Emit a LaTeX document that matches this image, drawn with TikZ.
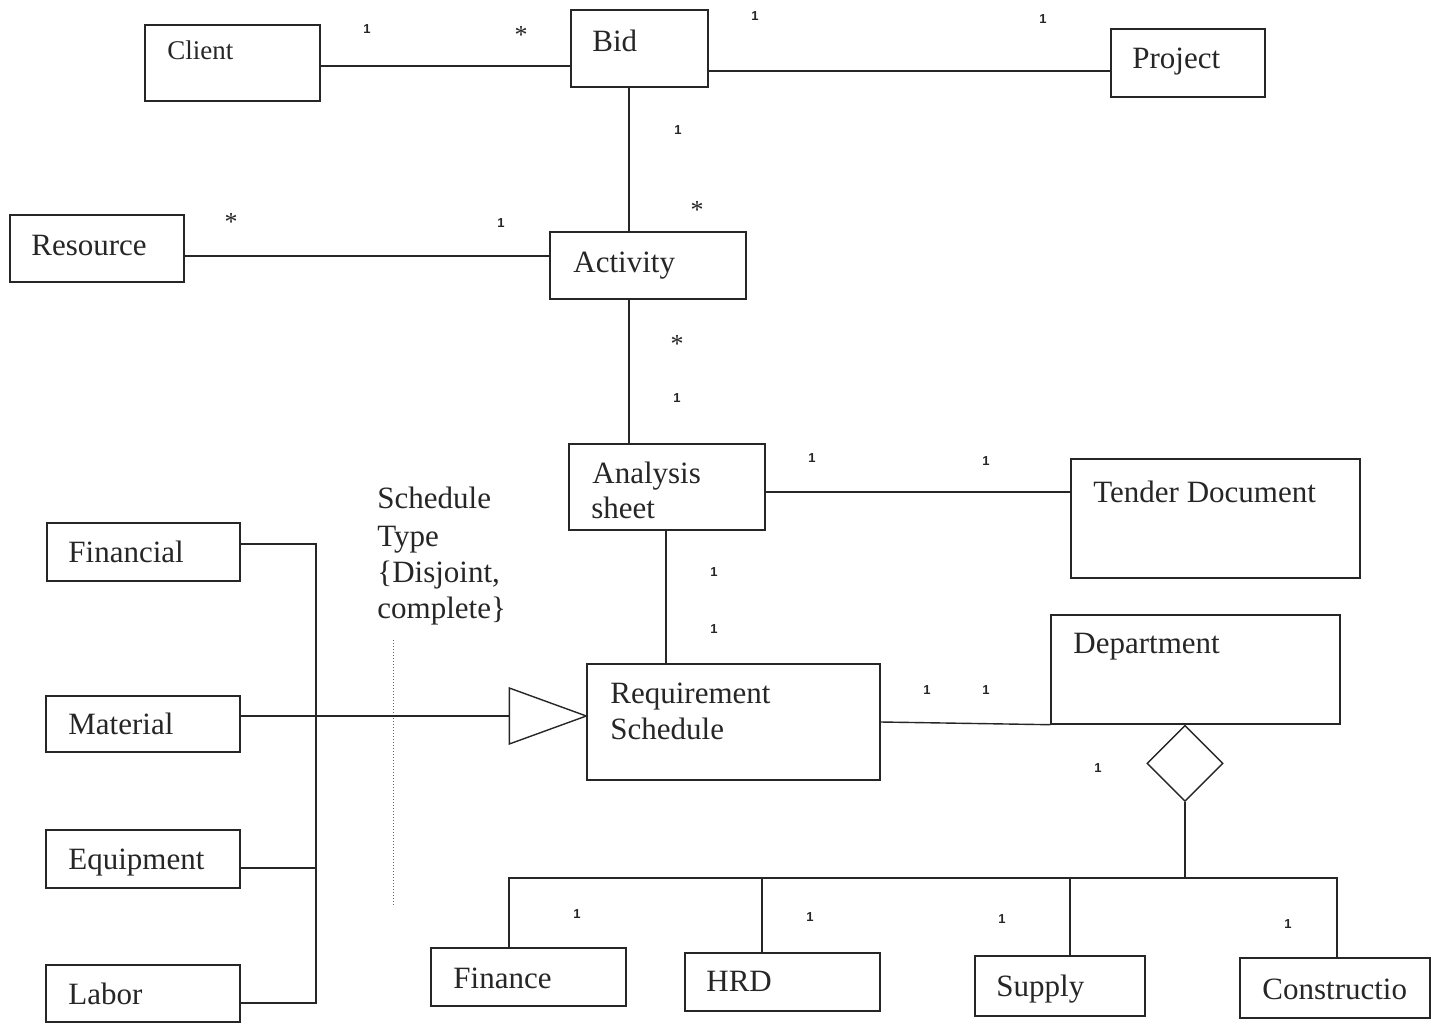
\documentclass[tikz,border=0pt]{standalone}
\usepackage{fontspec}
\setmainfont{Liberation Serif}
\newfontfamily\multfont{Liberation Sans}
\usetikzlibrary{fit,shapes.geometric}

\begin{document}
\begin{tikzpicture}[x=0.5pt,y=-0.5pt,
  cls/.style={draw=black!85, line width=0.7pt, inner sep=0pt},
  lbl/.style={font=\fontsize{15.5}{18}\selectfont, inner sep=0pt, anchor=base west, text=black!85},
  smalllbl/.style={lbl, font=\fontsize{13.5}{16}\selectfont},
  mult/.style={font=\multfont\bfseries\fontsize{6.5}{8}\selectfont, inner sep=0pt, text=black!85},
  star/.style={font=\fontsize{13}{14}\selectfont, inner sep=0pt, text=black!85},
  wire/.style={draw=black!85, line width=0.7pt}]
\useasboundingbox (0,0) rectangle (1437,1023);
\fill[white] (0,0) rectangle (1437,1023);

% ---- classes ----
\node[cls, fit={(145,25) (320,101)}] (client) {};
\node[cls, fit={(571,10) (708,87)}] (bid) {};
\node[cls, fit={(1111,29) (1265,97)}] (project) {};
\node[cls, fit={(10,215) (184,282)}] (resource) {};
\node[cls, fit={(550,232) (746,299)}] (activity) {};
\node[cls, fit={(569,444) (765,530)}] (analysis) {};
\node[cls, fit={(1071,459) (1360,578)}] (tender) {};
\node[cls, fit={(47,523) (240,581)}] (financial) {};
\node[cls, fit={(46,696) (240,752)}] (material) {};
\node[cls, fit={(46,830) (240,888)}] (equipment) {};
\node[cls, fit={(46,965) (240,1022)}] (labor) {};
\node[cls, fit={(587,664) (880,780)}] (req) {};
\node[cls, fit={(1051,615) (1340,724)}] (dept) {};
\node[cls, fit={(431,948) (626,1006)}] (finance) {};
\node[cls, fit={(685,953) (880,1011)}] (hrd) {};
\node[cls, fit={(975,956) (1145,1016)}] (supply) {};
\node[cls, fit={(1240,958) (1430,1018)}] (construction) {};

% ---- class names ----
\node[smalllbl] (t-client) at (167,59) {Client};
\node[lbl] (t-bid) at (592,51) {Bid};
\node[lbl] (t-project) at (1132,68) {Project};
\node[lbl] (t-resource) at (31,255) {Resource};
\node[lbl] (t-activity) at (573,272) {Activity};
\node[lbl] (t-analysis1) at (592,483) {Analysis};
\node[lbl] (t-analysis2) at (591,518) {sheet};
\node[lbl] (t-tender) at (1093,502) {Tender Document};
\node[lbl] (t-financial) at (68,562) {Financial};
\node[lbl] (t-material) at (68,734) {Material};
\node[lbl] (t-equipment) at (68,869) {Equipment};
\node[lbl] (t-labor) at (68,1004) {Labor};
\node[lbl] (t-req1) at (610,703) {Requirement};
\node[lbl] (t-req2) at (610,739) {Schedule};
\node[lbl] (t-dept) at (1073,653) {Department};
\node[lbl] (t-finance) at (453,988) {Finance};
\node[lbl] (t-hrd) at (706,991) {HRD};
\node[lbl] (t-supply) at (996,996) {Supply};
\node[lbl] (t-construction) at (1262,999) {Constructio};

% ---- generalization note ----
\node[lbl] (n1) at (377,508) {Schedule};
\node[lbl] (n2) at (377,546) {Type};
\node[lbl] (n3) at (377,582) {\{Disjoint,};
\node[lbl] (n4) at (377,618) {complete\}};
\draw[black!60, line width=0.5pt, densely dotted] (393,640) coordinate (dotA) -- (393,906) coordinate (dotB);

% ---- associations ----
\draw[wire] (client.east |- 0,66) -- (bid.west |- 0,66);
\draw[wire] (bid.east |- 0,71) -- (project.west |- 0,71);
\draw[wire] (629,0 |- bid.south) -- (629,0 |- activity.north);
\draw[wire] (resource.east |- 0,256) -- (activity.west |- 0,256);
\draw[wire] (629,0 |- activity.south) -- (629,0 |- analysis.north);
\draw[wire] (analysis.east |- 0,492) -- (tender.west |- 0,492);
\draw[wire] (666,0 |- analysis.south) -- (666,0 |- req.north);
\draw[wire] (req.east) -- (dept.south west);

% ---- generalization ----
\draw[wire, fill=white] (req.west |- 0,716) coordinate (triTip) -- ++(-77,-28) coordinate (triT) -- ++(0,56) coordinate (triB) -- cycle;
\draw[wire] (material.east |- triTip) -- (triT |- triTip);
\draw[wire] (financial.east |- 0,544) -- (316,544) coordinate (trunkT)
  -- (316,1003) coordinate (trunkB) -- (labor.east |- trunkB);
\draw[wire] (equipment.east |- 0,868) -- (trunkT |- 0,868);

% ---- aggregation of departments ----
\node[cls, diamond, aspect=1, minimum width=38pt, minimum height=38pt, anchor=north, fill=white] (agg) at (dept.south -| 1185,0) {};
\coordinate (bus) at (0,878);
\draw[wire] (agg.south) -- (agg.south |- bus);
\draw[wire] (509,0 |- finance.north) -- (509,0 |- bus) -- (1337,0 |- bus) -- (1337,0 |- construction.north);
\draw[wire] (762,0 |- hrd.north) -- (762,0 |- bus);
\draw[wire] (1070,0 |- supply.north) -- (1070,0 |- bus);

% ---- multiplicities ----
\node[mult] (m1) at (367,29) {1};
\node[star] (m2) at (521,35) {*};
\node[mult] (m3) at (755,16) {1};
\node[mult] (m4) at (1043,19) {1};
\node[mult] (m5) at (678,130) {1};
\node[star] (m6) at (697,210) {*};
\node[star] (m7) at (231,222) {*};
\node[mult] (m8) at (501,223) {1};
\node[star] (m9) at (677,344) {*};
\node[mult] (m10) at (677,398) {1};
\node[mult] (m11) at (812,458) {1};
\node[mult] (m12) at (986,461) {1};
\node[mult] (m13) at (714,572) {1};
\node[mult] (m14) at (714,629) {1};
\node[mult] (m15) at (927,690) {1};
\node[mult] (m16) at (986,690) {1};
\node[mult] (m17) at (1098,768) {1};
\node[mult] (m18) at (577,914) {1};
\node[mult] (m19) at (810,917) {1};
\node[mult] (m20) at (1002,919) {1};
\node[mult] (m21) at (1288,924) {1};
\end{tikzpicture}
\end{document}
